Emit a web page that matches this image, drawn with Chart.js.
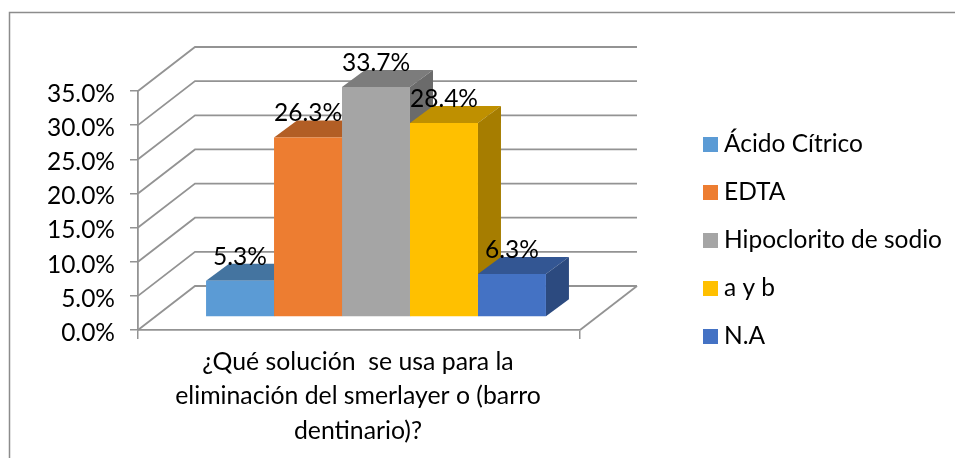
<!DOCTYPE html>
<html lang="es">
<head>
<meta charset="utf-8">
<style>html,body{margin:0;padding:0;background:#fff}#w{width:955px;height:458px;position:relative}</style>
<script src="https://cdn.jsdelivr.net/npm/chart.js@4/dist/chart.umd.min.js"></script>
</head>
<body>
<div id="w"><canvas id="c"></canvas></div>
<script>
const categoryLines = ['¿Qué solución  se usa para la', 'eliminación del smerlayer o (barro', 'dentinario)?'];
const seriesNames = ['Ácido Cítrico', 'EDTA', 'Hipoclorito de sodio', 'a y b', 'N.A'];
const seriesValues = [5.3, 26.3, 33.7, 28.4, 6.3];
const seriesColors = ['#5B9BD5', '#ED7D31', '#A5A5A5', '#FFC000', '#4472C4'];

const FONT = 'Lato, Carlito, Calibri, sans-serif';
const FS = 24.5;
const GRID = '#939393';
const WALL = {dx: 57, dy: -44};
const PLANE = {dx: 17, dy: -13};
const DEPTH = {dx: 23, dy: -17};

function shade(hex, f) {
  const n = parseInt(hex.slice(1), 16);
  const c = [n >> 16, (n >> 8) & 255, n & 255].map(v => Math.round(v * f));
  return `rgb(${c[0]},${c[1]},${c[2]})`;
}
function swatch(color) {
  const cv = document.createElement('canvas');
  cv.width = 15; cv.height = 15;
  const g = cv.getContext('2d');
  g.fillStyle = color; g.fillRect(0, 0, 15, 15);
  return cv;
}
function poly(ctx, pts, color) {
  ctx.fillStyle = color;
  ctx.beginPath();
  pts.forEach((p, i) => i ? ctx.lineTo(p[0], p[1]) : ctx.moveTo(p[0], p[1]));
  ctx.closePath();
  ctx.fill();
}

const frame3d = {
  id: 'frame3d',
  beforeDraw(chart) {
    const {ctx, width, height} = chart;
    ctx.save();
    ctx.fillStyle = '#fff';
    ctx.fillRect(0, 0, width, height);
    ctx.strokeStyle = '#8c8c8c';
    ctx.lineWidth = 1.5;
    ctx.beginPath();
    ctx.moveTo(9.5, height); ctx.lineTo(9.5, 12.5); ctx.lineTo(width, 12.5);
    ctx.stroke();
    ctx.restore();
  },
  beforeDatasetsDraw(chart) {
    const {ctx, chartArea: a, scales: {y}} = chart;
    ctx.save();
    ctx.strokeStyle = GRID;
    ctx.lineWidth = 1.8;
    y.ticks.forEach(t => {
      const py = y.getPixelForValue(t.value);
      ctx.beginPath();
      ctx.moveTo(a.left, py);
      ctx.lineTo(a.left + WALL.dx, py + WALL.dy);
      ctx.lineTo(a.right + WALL.dx, py + WALL.dy);
      ctx.stroke();
    });
    ctx.beginPath();
    ctx.moveTo(a.right, a.bottom);
    ctx.lineTo(a.right + WALL.dx, a.bottom + WALL.dy);
    ctx.stroke();
    ctx.restore();

    ctx.save();
    ctx.translate(PLANE.dx, PLANE.dy);
    chart.data.datasets.forEach((ds, i) => {
      const b = chart.getDatasetMeta(i).data[0];
      const l = b.x - b.width / 2, r = b.x + b.width / 2, t = b.y, bo = b.base;
      poly(ctx, [[l, t], [r, t], [r + DEPTH.dx, t + DEPTH.dy], [l + DEPTH.dx, t + DEPTH.dy]], shade(ds.backgroundColor, 0.75));
      poly(ctx, [[r, t], [r + DEPTH.dx, t + DEPTH.dy], [r + DEPTH.dx, bo + DEPTH.dy], [r, bo]], shade(ds.backgroundColor, 0.65));
    });
  },
  afterDatasetsDraw(chart) {
    const {ctx} = chart;
    ctx.restore();
    ctx.save();
    ctx.fillStyle = '#000';
    ctx.font = `${FS}px ${FONT}`;
    ctx.textAlign = 'center';
    ctx.textBaseline = 'middle';
    chart.data.datasets.forEach((ds, i) => {
      const b = chart.getDatasetMeta(i).data[0];
      ctx.fillText(ds.data[0].toFixed(1) + '%', b.x + PLANE.dx, b.y + PLANE.dy - 24);
    });
    ctx.restore();
  }
};

new Chart(document.getElementById('c'), {
  type: 'bar',
  data: {
    labels: [categoryLines],
    datasets: seriesNames.map((name, i) => ({
      label: name,
      data: [seriesValues[i]],
      backgroundColor: seriesColors[i],
      borderWidth: 0,
      clip: false
    }))
  },
  options: {
    responsive: true,
    maintainAspectRatio: false,
    animation: false,
    devicePixelRatio: 1,
    barPercentage: 1,
    categoryPercentage: 0.769,
    layout: {padding: {left: 0, top: 23, right: 3, bottom: 0}},
    plugins: {
      title: {display: false},
      tooltip: {enabled: false},
      legend: {
        position: 'right',
        maxWidth: 320,
        labels: {
          color: '#000',
          font: {family: FONT, size: FS},
          padding: 23.5,
          usePointStyle: true,
          pointStyleWidth: 2.5,
          generateLabels: chart => chart.data.datasets.map((ds, i) => ({
            text: ds.label,
            fillStyle: ds.backgroundColor,
            strokeStyle: ds.backgroundColor,
            lineWidth: 0,
            pointStyle: swatch(ds.backgroundColor),
            datasetIndex: i
          }))
        }
      }
    },
    scales: {
      x: {
        afterFit: s => { s.height = 128; },
        grid: {drawOnChartArea: false, drawTicks: true, tickLength: 9, color: GRID, lineWidth: 1.5},
        border: {color: GRID, width: 1.8},
        ticks: {
          color: '#000',
          font: {family: FONT, size: 24.8, lineHeight: 1.38},
          padding: 6,
          maxRotation: 0,
          autoSkip: false,
          labelOffset: -1
        }
      },
      y: {
        min: 0,
        max: 35,
        afterFit: s => { s.width = 138; },
        grid: {drawOnChartArea: false, drawTicks: true, tickLength: 8, color: GRID, lineWidth: 1.5},
        border: {color: GRID, width: 1.8},
        ticks: {
          stepSize: 5,
          color: '#000',
          font: {family: FONT, size: FS},
          padding: 15,
          labelOffset: 3,
          callback: v => v.toFixed(1) + '%'
        }
      },
      gapRight: {
        type: 'linear',
        position: 'right',
        afterFit: s => { s.width = 105.75; },
        grid: {display: false},
        border: {display: false},
        ticks: {display: false}
      },
      gapTop: {
        type: 'linear',
        axis: 'x',
        position: 'top',
        afterFit: s => { s.height = 68; },
        grid: {display: false},
        border: {display: false},
        ticks: {display: false}
      }
    }
  },
  plugins: [frame3d]
});
</script>
</body>
</html>
